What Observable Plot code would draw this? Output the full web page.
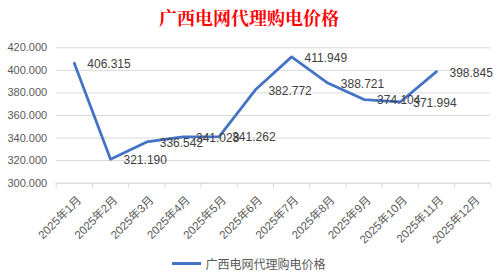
<!DOCTYPE html>
<html><head><meta charset="utf-8">
<script src="https://cdn.jsdelivr.net/npm/d3@7"></script>
<script src="https://cdn.jsdelivr.net/npm/@observablehq/plot@0.6"></script>
<style>
body{margin:0;background:#fff;width:498px;height:277px;overflow:hidden;}
#title{height:35px;line-height:35px;text-align:center;font-weight:bold;font-size:18px;font-family:"Noto Serif CJK SC","Noto Sans CJK SC",serif;color:#ff0000;}
#chart{height:215px;}
#legend{height:27px;display:flex;align-items:center;justify-content:center;font-size:12px;font-family:"Noto Sans CJK SC",sans-serif;color:#595959;}
#legend .sw{display:inline-block;width:29px;height:3px;background:#4472C4;margin-right:4px;}
</style></head><body>
<div id="title"></div>
<div id="chart"></div>
<div id="legend"><span class="sw"></span><span id="lname"></span></div>
<script>
const chartTitle = "广西电网代理购电价格";
const seriesName = "广西电网代理购电价格";
const months = ["2025年1月","2025年2月","2025年3月","2025年4月","2025年5月","2025年6月","2025年7月","2025年8月","2025年9月","2025年10月","2025年11月","2025年12月"];
const prices = [406.315, 321.190, 336.542, 341.028, 341.262, 382.772, 411.949, 388.721, 374.104, 371.994, 398.845];
const yTicks = [300, 320, 340, 360, 380, 400, 420];

document.getElementById("title").textContent = chartTitle;
document.getElementById("lname").textContent = seriesName;

const data = prices.map((v, i) => ({i, v, label: v.toFixed(3)}));
const boundaries = d3.range(months.length + 1).map(i => i - 0.5);

const plot = Plot.plot({
  width: 498, height: 215,
  marginTop: 12.3, marginBottom: 67.3, marginLeft: 55.7, marginRight: 7.7,
  style: {background: "transparent", fontFamily: '"Liberation Sans","Noto Sans CJK SC",sans-serif', fontSize: "11px", color: "#595959"},
  x: {type: "linear", domain: [-0.5, months.length - 0.5]},
  y: {domain: [300, 420]},
  marks: [
    Plot.gridY(yTicks, {stroke: "#d9d9d9", strokeOpacity: 1}),
    Plot.ruleY([300], {stroke: "#d9d9d9"}),
    Plot.axisY(yTicks, {tickSize: 0, tickPadding: 9, tickFormat: d3.format(".3f"), label: null, fill: "#595959"}),
    Plot.axisX(boundaries, {tickSize: 5, tickFormat: () => "", label: null, stroke: "#d9d9d9"}),
    Plot.axisX(d3.range(months.length), {tickSize: 0, tickPadding: 15, tickRotate: -45, tickFormat: i => months[i], label: null, fill: "#595959", fontSize: 11.5, dx: 5}),
    Plot.line(data, {x: "i", y: "v", stroke: "#4472C4", strokeWidth: 2.75, strokeLinejoin: "round", strokeLinecap: "round"}),
    Plot.text(data, {x: "i", y: "v", text: "label", textAnchor: "start", dx: 13, dy: 1, fontSize: 12, fill: "#404040"})
  ]
});
document.getElementById("chart").appendChild(plot);
</script>
</body></html>
